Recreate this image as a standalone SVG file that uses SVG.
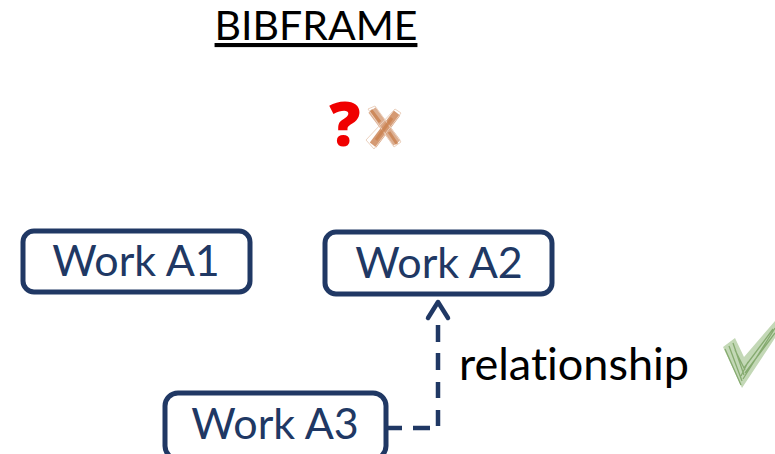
<svg xmlns="http://www.w3.org/2000/svg" width="775" height="454" viewBox="0 0 775 454">
<style>
text{font-family:Lato,"Open Sans","Liberation Sans",sans-serif;font-variant-ligatures:none}
.box{fill:#fff;stroke:#203864;stroke-width:5}
.lbl{font-size:43px;fill:#203864;text-anchor:middle}
.con{fill:none;stroke:#203864;stroke-width:4.5}
</style>
<rect width="775" height="454" fill="#fff"/>
<g id="title"><text x="316" y="40" font-size="41" text-anchor="middle" fill="#000" text-decoration="underline">BIBFRAME</text></g>
<g id="question"><text x="345" y="146" font-size="62" font-weight="800" text-anchor="middle" fill="#f00000" style="font-family:'Open Sans',sans-serif">?</text></g>
<g id="cross" fill="none" stroke-linecap="butt">
<path d="M372 110L397 143" stroke="#dcae90" stroke-width="9"/>
<path d="M397 113L373 145" stroke="#d59a73" stroke-width="8"/>
<path d="M368 109L375 106L401 142L394 147ZM366 140L395 109L401 113L374 149Z" stroke="#ecd2c0" stroke-width="1"/>
<path d="M371 110L380 122M389 132L397 144M392 118L376 140" stroke="#c9814f" stroke-width="3" opacity=".8"/>
</g>
<g id="check">
<polygon points="723,347 735,338 744,357 775,321 775,338 742,388" fill="#c3d8b6"/>
<path d="M725 349L741 385M729 346L742 381M733 343L744 375M735 350L745 370M744 368L773 329M745 373L775 333M743 379L775 328M741 376L748 362" fill="none" stroke="#86ab70" stroke-width="1.3"/>
</g>
<g id="connectors">
<path class="con" d="M388 428H402M413 428H430"/>
<path class="con" d="M438 426V410M438 398V382M438 370V353M438 342V325"/>
<path class="con" stroke-width="5" stroke-linecap="round" stroke-linejoin="round" d="M428 318L438 302L448 318"/>
</g>
<g id="work-a1"><rect class="box" x="23" y="231" width="227" height="61" rx="11"/><text class="lbl" x="136" y="276">Work A1</text></g>
<g id="work-a2"><rect class="box" x="325" y="232" width="227" height="62" rx="11"/><text class="lbl" x="439" y="278">Work A2</text></g>
<g id="work-a3"><rect class="box" x="165" y="393" width="221" height="66" rx="13"/><text class="lbl" x="275" y="439">Work A3</text></g>
<g id="relationship"><text x="459" y="380" font-size="45" fill="#000">relationship</text></g>
</svg>
